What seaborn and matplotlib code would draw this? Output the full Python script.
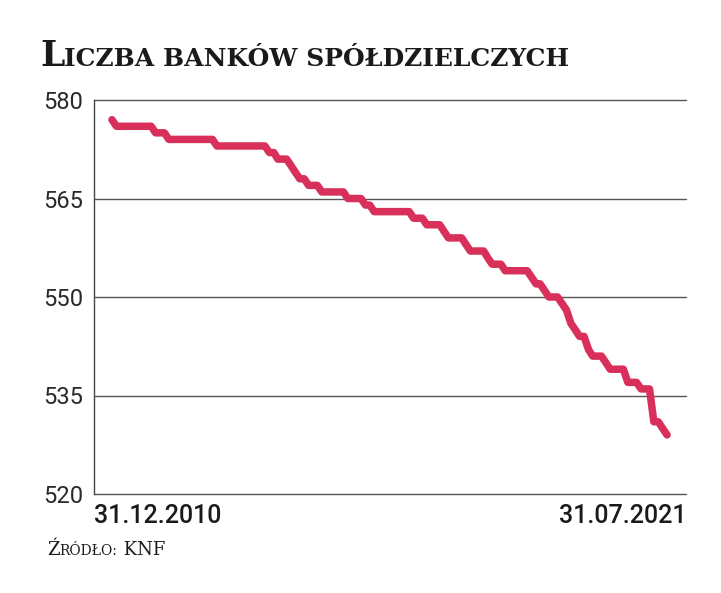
import pandas as pd
import matplotlib.pyplot as plt
import seaborn as sns

# Number of cooperative banks, monthly, 31.12.2010 - 31.07.2021
start_date = "2010-12-31"
bank_counts = [
    577,
    576, 576, 576, 576, 576, 576, 576, 576, 576,
    575, 575, 575,
    574, 574, 574, 574, 574, 574, 574, 574, 574, 574, 574,
    573, 573, 573, 573, 573, 573, 573, 573, 573, 573, 573, 573,
    572, 572,
    571, 571, 571,
    570, 569, 568, 568,
    567, 567, 567,
    566, 566, 566, 566, 566, 566,
    565, 565, 565, 565,
    564, 564,
    563, 563, 563, 563, 563, 563, 563, 563, 563,
    562, 562, 562,
    561, 561, 561, 561,
    560,
    559, 559, 559, 559,
    558,
    557, 557, 557, 557,
    556,
    555, 555, 555,
    554, 554, 554, 554, 554, 554,
    553, 552, 552, 551,
    550, 550, 550,
    549, 548,
    546, 545,
    544, 544,
    542,
    541, 541, 541,
    540,
    539, 539, 539, 539,
    537, 537, 537,
    536, 536, 536,
    531, 531, 530, 529,
]
y_ticks = [520, 535, 550, 565, 580]
x_labels = ["31.12.2010", "31.07.2021"]
title_big, title_small = "L", "ICZBA BANKÓW SPÓŁDZIELCZYCH"

dates = pd.date_range(start_date, periods=len(bank_counts), freq="ME")
df = pd.DataFrame({"date": dates, "banks": bank_counts})

sns.set_style("white")
W, H = 721, 593
fig = plt.figure(figsize=(W / 100, H / 100), dpi=100)
ax = fig.add_axes([94 / W, 1 - 494 / H, (686 - 94) / W, (494 - 100) / H])

sns.lineplot(data=df, x="date", y="banks", ax=ax, color="#d8305a", linewidth=5.4,
             solid_capstyle="round", solid_joinstyle="round", zorder=3)

ax.set_ylim(520, 580)
ax.set_xlim(pd.Timestamp("2010-08-28"), pd.Timestamp("2021-12-10"))
ax.set_yticks(y_ticks)
ax.set_yticklabels([str(v) for v in y_ticks], fontsize=17, fontfamily="Roboto",
                   fontweight="normal", color="#2a2a2a")
ax.set_xticks([])
ax.tick_params(axis="y", length=0, pad=8)
ax.set_xlabel("")
ax.set_ylabel("")
ax.grid(axis="y", color="#555555", linewidth=1.0)
for line in ax.get_ygridlines():
    line.set_clip_on(False)
for side in ["top", "right", "bottom"]:
    ax.spines[side].set_visible(False)
ax.spines["left"].set_color("#444444")
ax.spines["left"].set_linewidth(1.0)

# x labels only at the ends
ax.text(0.0, -0.025, x_labels[0], transform=ax.transAxes, ha="left", va="top",
        fontsize=18, fontfamily="Roboto", fontweight="medium", color="#1a1a1a")
ax.text(1.0, -0.025, x_labels[1], transform=ax.transAxes, ha="right", va="top",
        fontsize=18, fontfamily="Roboto", fontweight="medium", color="#1a1a1a")

renderer = fig.canvas.get_renderer()


def small_caps(x, y, parts, family, weight):
    # parts: list of (text, fontsize), drawn one after another on a common baseline
    for text, size in parts:
        t = fig.text(x / W, 1 - y / H, text, fontsize=size, fontfamily=family,
                     fontweight=weight, va="baseline", ha="left", color="#1a1a1a")
        x += t.get_window_extent(renderer).width


small_caps(40, 66, [(title_big, 25), (title_small, 18)], ["DejaVu Serif"], "heavy")
small_caps(47, 555, [("Ź", 13), ("RÓDŁO:", 10), (" KNF", 13)], ["DejaVu Serif"], "normal")

fig.savefig("out.png", dpi=100)
